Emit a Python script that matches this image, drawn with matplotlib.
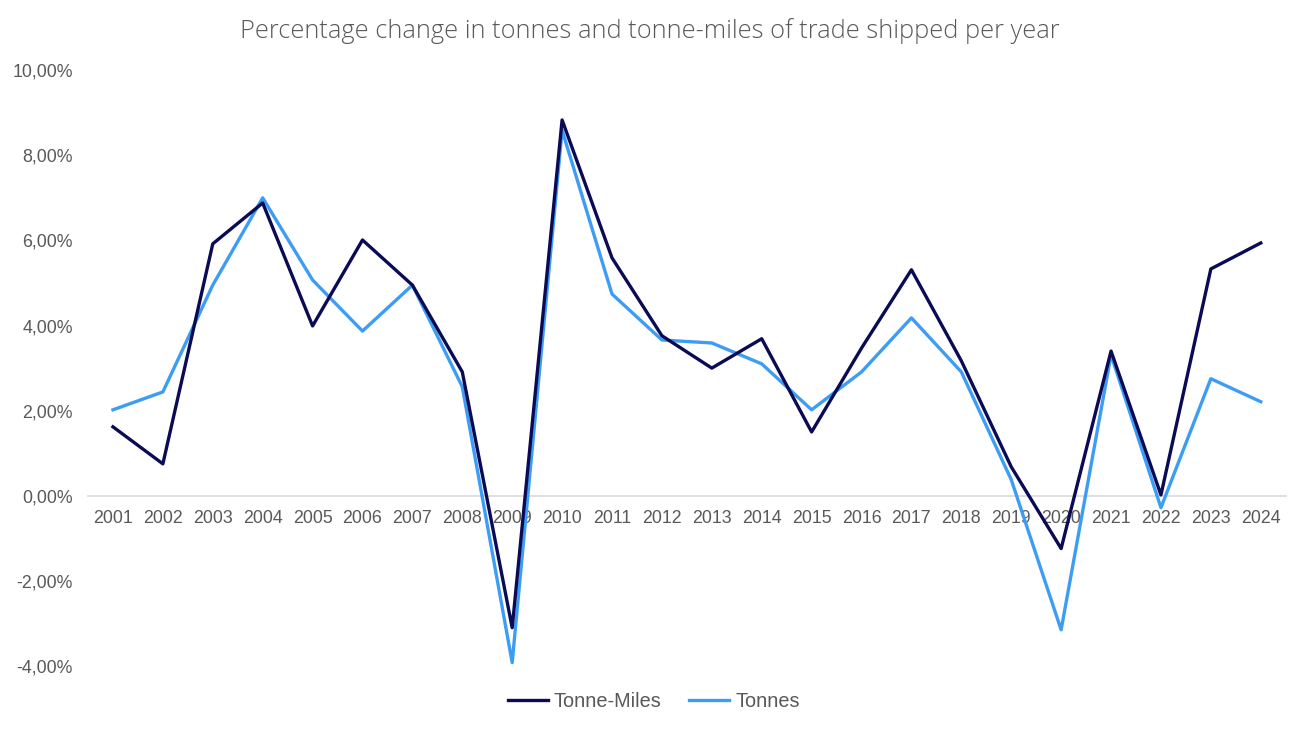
import matplotlib.pyplot as plt
from matplotlib.ticker import FuncFormatter

years = [str(y) for y in range(2001, 2025)]
tonne_miles = [1.62, 0.75, 5.92, 6.88, 3.99, 6.01, 4.95, 2.91, -3.10, 8.83, 5.59, 3.76,
               3.00, 3.69, 1.50, 3.47, 5.31, 3.17, 0.68, -1.24, 3.40, 0.02, 5.33, 5.94]
tonnes = [2.02, 2.44, 4.95, 7.00, 5.07, 3.87, 4.95, 2.56, -3.92, 8.59, 4.74, 3.66,
          3.59, 3.10, 2.02, 2.91, 4.18, 2.91, 0.38, -3.15, 3.31, -0.28, 2.75, 2.21]

plt.rcParams['font.family'] = ['Liberation Sans', 'DejaVu Sans']

fig = plt.figure(figsize=(13, 7.31), dpi=100)
ax = fig.add_axes([0.0677, 0.0889, 0.9213, 0.8151])

x = list(range(len(years)))
ax.plot(x, tonne_miles, color="#0b0b55", linewidth=2.4, label="Tonne-Miles", zorder=3)
ax.plot(x, tonnes, color="#3d9df5", linewidth=2.4, label="Tonnes", zorder=2)

ax.set_xlim(-0.5, len(years) - 0.5)
ax.set_ylim(-4, 10)
ax.set_yticks([-4, -2, 0, 2, 4, 6, 8, 10])
ax.yaxis.set_major_formatter(FuncFormatter(lambda v, p: f"{v:.2f}%".replace('.', ',')))

for s in ['top', 'right', 'left']:
    ax.spines[s].set_visible(False)
ax.spines['bottom'].set_position(('data', 0))
ax.spines['bottom'].set_color('#d9d9d9')
ax.spines['bottom'].set_linewidth(1.2)
ax.spines['bottom'].set_zorder(1)

ax.set_xticks(x)
ax.set_xticklabels(years)
ax.tick_params(axis='both', length=0, labelsize=12.8, colors='#595959')
ax.tick_params(axis='x', pad=10)
ax.tick_params(axis='y', pad=11)

fig.suptitle("Percentage change in tonnes and tonne-miles of trade shipped per year",
             y=0.975, fontsize=18.3, color='#595959', family=['Open Sans', 'DejaVu Sans'],
             fontweight='light')

fig.legend(loc='center', bbox_to_anchor=(0.503, 0.041), ncol=2, frameon=False,
           fontsize=14.3, labelcolor='#595959', handlelength=2.0, handletextpad=0.3,
           columnspacing=1.4)

fig.savefig("out.png", dpi=100)
